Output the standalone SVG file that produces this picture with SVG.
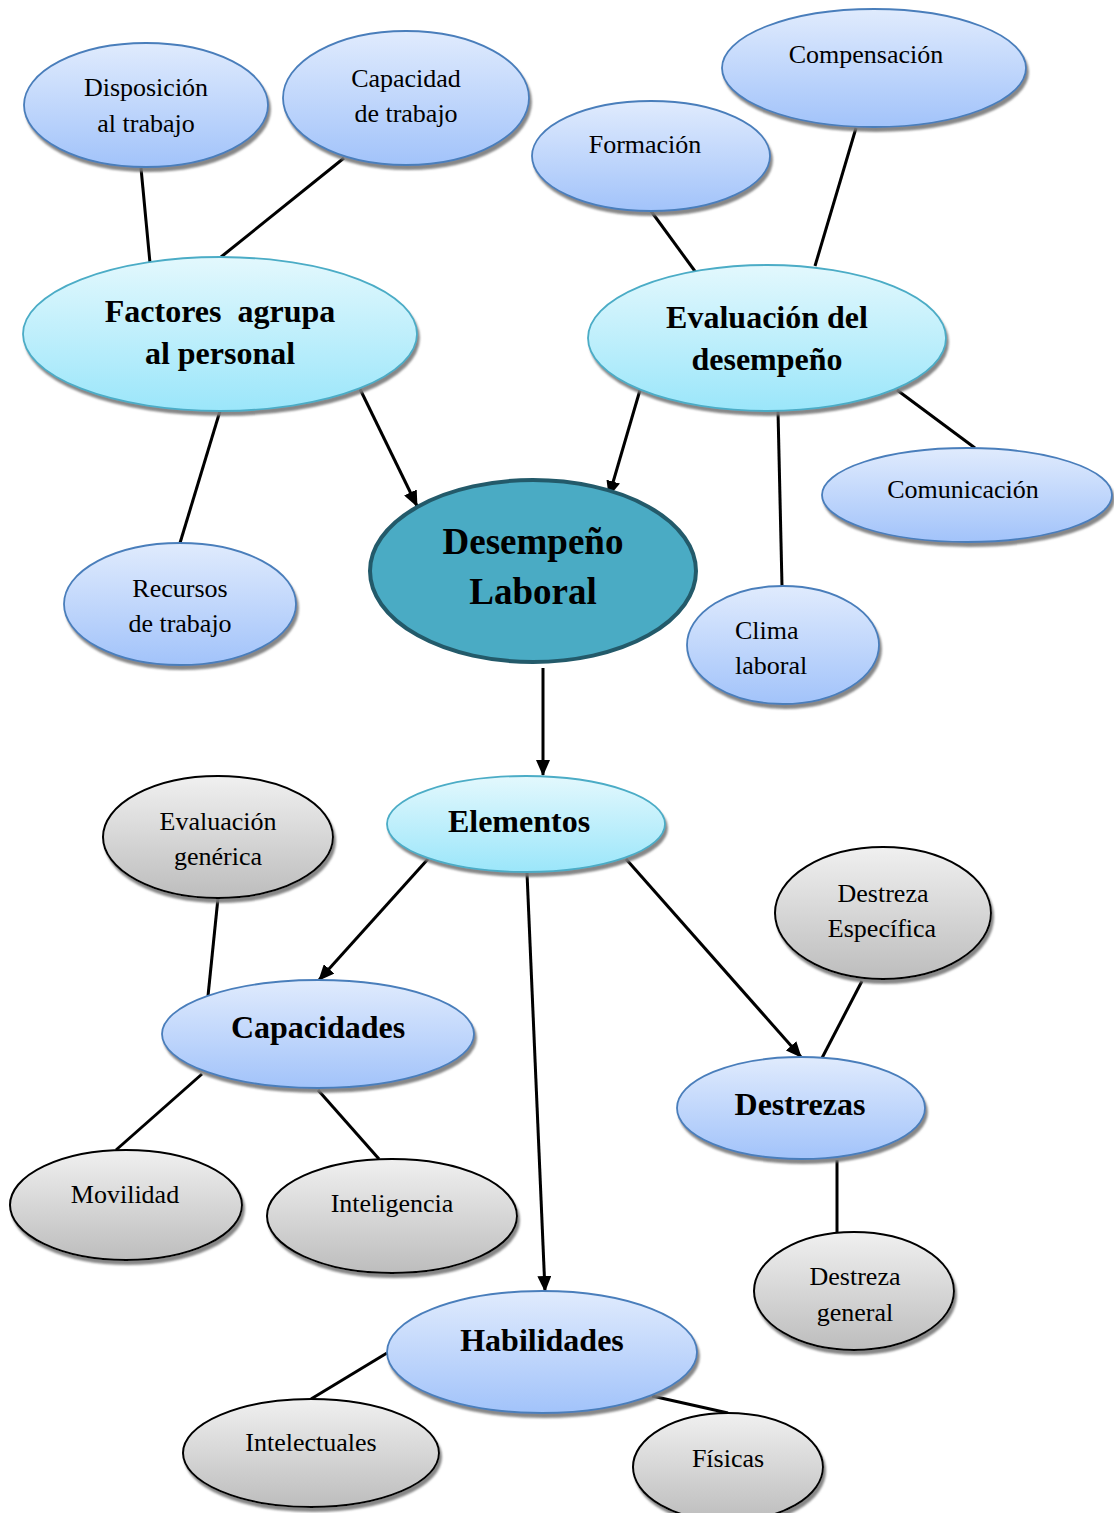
<svg xmlns="http://www.w3.org/2000/svg" width="1114" height="1513" viewBox="0 0 1114 1513">
  <defs>
    <linearGradient id="gBlue" x1="0" y1="0" x2="0" y2="1">
      <stop offset="0" stop-color="#e0ebfd"/>
      <stop offset="1" stop-color="#a2c3fa"/>
    </linearGradient>
    <linearGradient id="gCyan" x1="0" y1="0" x2="0" y2="1">
      <stop offset="0" stop-color="#e3f8fd"/>
      <stop offset="1" stop-color="#9be6fa"/>
    </linearGradient>
    <linearGradient id="gGray" x1="0" y1="0" x2="0" y2="1">
      <stop offset="0" stop-color="#f0f0f0"/>
      <stop offset="1" stop-color="#bdbdbd"/>
    </linearGradient>
    <filter id="shadow" x="-10%" y="-10%" width="125%" height="130%">
      <feDropShadow dx="2" dy="4" stdDeviation="1.2" flood-color="#7a7a7a" flood-opacity="0.9"/>
    </filter>
    <marker id="arrow" markerUnits="userSpaceOnUse" markerWidth="16" markerHeight="14" refX="15" refY="7" orient="auto">
      <path d="M0,0 L16,7 L0,14 Z" fill="#000"/>
    </marker>
  </defs>
  <style>
    .blue { fill: url(#gBlue); stroke: #4a7ebb; stroke-width: 1.8; filter: url(#shadow); }
    .cyan { fill: url(#gCyan); stroke: #4bacc6; stroke-width: 1.8; filter: url(#shadow); }
    .gray { fill: url(#gGray); stroke: #000; stroke-width: 2; filter: url(#shadow); }
    .core { fill: #4aabc4; stroke: #235a6a; stroke-width: 4; }
    .t { font-family: "Liberation Serif", "Times New Roman", serif; font-size: 26px; fill: #000; text-anchor: middle; }
    .b { font-family: "Liberation Serif", "Times New Roman", serif; font-size: 32px; font-weight: bold; fill: #000; text-anchor: middle; }
    .big { font-size: 37px; }
    .left { text-anchor: start; }
    .link { stroke: #000; stroke-width: 3; fill: none; }
    .arr { marker-end: url(#arrow); }
  </style>

  <!-- connectors -->
  <g id="connectors">
    <line class="link" x1="141" y1="168" x2="150" y2="263"/>
    <line class="link" x1="344" y1="158" x2="221" y2="257"/>
    <line class="link" x1="651" y1="211" x2="697" y2="274"/>
    <line class="link" x1="856" y1="128" x2="815" y2="266"/>
    <line class="link" x1="220" y1="411" x2="180" y2="543"/>
    <line class="link arr" x1="360" y1="389" x2="417" y2="506"/>
    <line class="link arr" x1="640" y1="390" x2="609" y2="496"/>
    <line class="link" x1="897" y1="390" x2="975" y2="448"/>
    <line class="link" x1="778" y1="411" x2="782" y2="586"/>
    <line class="link arr" x1="543" y1="668" x2="543" y2="775"/>
    <line class="link arr" x1="428" y1="859" x2="319" y2="980"/>
    <line class="link arr" x1="527" y1="873" x2="545" y2="1291"/>
    <line class="link arr" x1="626" y1="859" x2="801" y2="1057"/>
    <line class="link" x1="218" y1="898" x2="208" y2="996"/>
    <line class="link" x1="862" y1="981" x2="822" y2="1058"/>
    <line class="link" x1="837" y1="1160" x2="837" y2="1232"/>
    <line class="link" x1="202" y1="1074" x2="116" y2="1150"/>
    <line class="link" x1="318" y1="1090" x2="379" y2="1159"/>
    <line class="link" x1="387" y1="1353" x2="311" y2="1399"/>
    <line class="link" x1="652" y1="1396" x2="728" y2="1413"/>
  </g>

  <!-- top row -->
  <g id="disposicion">
    <ellipse class="blue" cx="146" cy="105" rx="122" ry="62"/>
    <text class="t" x="146" y="96">Disposición</text>
    <text class="t" x="146" y="132">al trabajo</text>
  </g>
  <g id="capacidad">
    <ellipse class="blue" cx="406" cy="98" rx="123" ry="67"/>
    <text class="t" x="406" y="87">Capacidad</text>
    <text class="t" x="406" y="122">de trabajo</text>
  </g>
  <g id="compensacion">
    <ellipse class="blue" cx="874" cy="68" rx="152" ry="59"/>
    <text class="t" x="866" y="63">Compensación</text>
  </g>
  <g id="formacion">
    <ellipse class="blue" cx="651" cy="156" rx="119" ry="55"/>
    <text class="t" x="645" y="153">Formación</text>
  </g>

  <!-- second row -->
  <g id="factores">
    <ellipse class="cyan" cx="220" cy="334" rx="197" ry="77"/>
    <text class="b" x="220" y="322" xml:space="preserve">Factores  agrupa</text>
    <text class="b" x="220" y="364">al personal</text>
  </g>
  <g id="evaluacion">
    <ellipse class="cyan" cx="767" cy="338" rx="179" ry="73"/>
    <text class="b" x="767" y="328">Evaluación del</text>
    <text class="b" x="767" y="370">desempeño</text>
  </g>
  <g id="comunicacion">
    <ellipse class="blue" cx="967" cy="495" rx="145" ry="47"/>
    <text class="t" x="963" y="498">Comunicación</text>
  </g>
  <g id="recursos">
    <ellipse class="blue" cx="180" cy="604" rx="116" ry="61"/>
    <text class="t" x="180" y="597">Recursos</text>
    <text class="t" x="180" y="632">de trabajo</text>
  </g>
  <g id="desempeno">
    <ellipse class="core" cx="533" cy="571" rx="163" ry="91"/>
    <text class="b big" x="533" y="554">Desempeño</text>
    <text class="b big" x="533" y="604">Laboral</text>
  </g>
  <g id="clima">
    <ellipse class="blue" cx="783" cy="645" rx="96" ry="59"/>
    <text class="t left" x="735" y="639">Clima</text>
    <text class="t left" x="735" y="674">laboral</text>
  </g>

  <!-- elements -->
  <g id="elementos">
    <ellipse class="cyan" cx="526" cy="824" rx="139" ry="48"/>
    <text class="b" x="519" y="832">Elementos</text>
  </g>
  <g id="eval-generica">
    <ellipse class="gray" cx="218" cy="837" rx="115" ry="61"/>
    <text class="t" x="218" y="830">Evaluación</text>
    <text class="t" x="218" y="865">genérica</text>
  </g>
  <g id="destreza-especifica">
    <ellipse class="gray" cx="883" cy="913" rx="108" ry="66"/>
    <text class="t" x="883" y="902">Destreza</text>
    <text class="t" x="882" y="937">Específica</text>
  </g>
  <g id="capacidades">
    <ellipse class="blue" cx="318" cy="1034" rx="156" ry="54"/>
    <text class="b" x="318" y="1038">Capacidades</text>
  </g>
  <g id="destrezas">
    <ellipse class="blue" cx="801" cy="1108" rx="124" ry="51"/>
    <text class="b" x="800" y="1115">Destrezas</text>
  </g>
  <g id="movilidad">
    <ellipse class="gray" cx="126" cy="1205" rx="116" ry="55"/>
    <text class="t" x="125" y="1203">Movilidad</text>
  </g>
  <g id="inteligencia">
    <ellipse class="gray" cx="392" cy="1216" rx="125" ry="57"/>
    <text class="t" x="392" y="1212">Inteligencia</text>
  </g>
  <g id="destreza-general">
    <ellipse class="gray" cx="854" cy="1291" rx="100" ry="59"/>
    <text class="t" x="855" y="1285">Destreza</text>
    <text class="t" x="855" y="1321">general</text>
  </g>
  <g id="habilidades">
    <ellipse class="blue" cx="542" cy="1352" rx="155" ry="61"/>
    <text class="b" x="542" y="1351">Habilidades</text>
  </g>
  <g id="intelectuales">
    <ellipse class="gray" cx="311" cy="1453" rx="128" ry="54"/>
    <text class="t" x="311" y="1451">Intelectuales</text>
  </g>
  <g id="fisicas">
    <ellipse class="gray" cx="728" cy="1467" rx="95" ry="54"/>
    <text class="t" x="728" y="1467">Físicas</text>
  </g>
</svg>
